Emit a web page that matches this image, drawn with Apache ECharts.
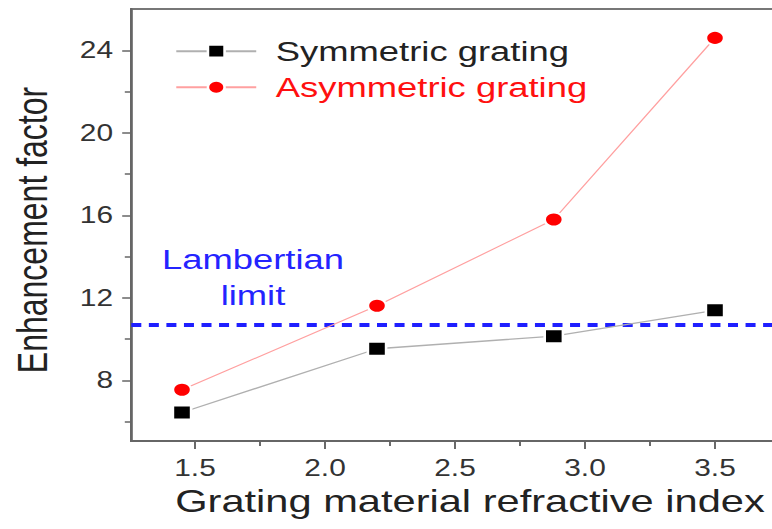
<!DOCTYPE html>
<html><head><meta charset="utf-8">
<script src="https://cdn.jsdelivr.net/npm/echarts@6/dist/echarts.min.js"></script>
<style>
html,body{margin:0;padding:0;width:772px;height:529px;overflow:hidden;background:#fff}
#wrap{width:772px;height:529px;overflow:hidden;position:relative;background:#fff}
#chart{width:594px;height:529px;transform:scaleX(1.3);transform-origin:0 0}
</style></head><body><div id="wrap"><div id="chart"></div></div>
<script>
// ---- data ----
const xValues = [1.45, 2.2, 2.88, 3.5];
const symmetric = [6.45, 9.54, 10.15, 11.4];
const asymmetric = [7.55, 11.62, 15.8, 24.6];
const lambertianLimit = 10.7;
const seriesNames = ['Symmetric grating', 'Asymmetric grating'];
const xTickLabels = [1.5, 2.0, 2.5, 3.0, 3.5];
const xMinorTicks = [1.75, 2.25, 2.75, 3.25];
const yTickLabels = [8, 12, 16, 20, 24];
const yMinorTicks = [6, 10, 14, 18, 22];
const xTitle = 'Grating material refractive index';
const yTitle = 'Enhancement factor';
const annotation = 'Lambertian\nlimit';

const FONT = "'Liberation Sans', Arial, sans-serif";
const X_MIN = 1.255, X_MAX = 3.75, Y_MIN = 5.07, Y_MAX = 26;
const axisColor = '#666';

const chart = echarts.init(document.getElementById('chart'), null, {renderer: 'svg'});

const option = {
  animation: false,
  backgroundColor: '#fff',
  grid: {
    left: 101, top: 9, width: 499, height: 432,
    show: true, borderColor: '#777', borderWidth: 2, backgroundColor: 'transparent',
    containLabel: false, outerBoundsMode: 'none'
  },
  legend: {
    orient: 'vertical', left: 129.6, top: 32.2, padding: 5,
    itemWidth: 61.5, itemHeight: 16, itemGap: 8,
    textStyle: {fontSize: 28, fontFamily: FONT, lineHeight: 28, padding: [0, 0, 0, 10]},
    data: [
      {name: seriesNames[0], textStyle: {color: '#222'}},
      {name: seriesNames[1], textStyle: {color: '#ff1010'}}
    ]
  },
  xAxis: [
    {
      type: 'value', min: X_MIN, max: X_MAX, position: 'bottom',
      name: xTitle, nameLocation: 'middle', nameGap: 32,
      nameTextStyle: {fontSize: 32, fontFamily: FONT, color: '#222', padding: [0, 0, 0, 22]},
      axisLine: {show: true, onZero: false, lineStyle: {color: axisColor, width: 2}},
      axisTick: {show: true, customValues: xTickLabels, length: 8, lineStyle: {color: axisColor, width: 1.5}},
      axisLabel: {customValues: xTickLabels, formatter: v => Number(v).toFixed(1), margin: 16,
        fontSize: 23, fontFamily: FONT, color: '#333'},
      splitLine: {show: false}
    },
    {
      type: 'value', min: X_MIN, max: X_MAX, position: 'bottom',
      axisLine: {show: false},
      axisTick: {show: true, customValues: xMinorTicks, length: 5, lineStyle: {color: axisColor, width: 1.5}},
      axisLabel: {show: false}, splitLine: {show: false}
    }
  ],
  yAxis: [
    {
      type: 'value', min: Y_MIN, max: Y_MAX, position: 'left',
      name: yTitle, nameLocation: 'middle', nameGap: 60, nameRotate: 90,
      nameTextStyle: {fontSize: 32, fontFamily: FONT, color: '#222', padding: [0, 10, 0, 0]},
      axisLine: {show: true, onZero: false, lineStyle: {color: axisColor, width: 2}},
      axisTick: {show: true, customValues: yTickLabels, length: 7, lineStyle: {color: axisColor, width: 1.5}},
      axisLabel: {customValues: yTickLabels, margin: 14, fontSize: 23, fontFamily: FONT, color: '#333'},
      splitLine: {show: false}
    },
    {
      type: 'value', min: Y_MIN, max: Y_MAX, position: 'left',
      axisLine: {show: false},
      axisTick: {show: true, customValues: yMinorTicks, length: 5, lineStyle: {color: axisColor, width: 1.5}},
      axisLabel: {show: false}, splitLine: {show: false}
    }
  ],
  series: [
    {
      name: seriesNames[0], type: 'line', xAxisIndex: 0, yAxisIndex: 0,
      data: xValues.map((x, i) => [x, symmetric[i]]),
      symbol: 'rect', symbolSize: 14,
      itemStyle: {color: '#000', borderColor: '#fff', borderWidth: 2},
      lineStyle: {color: '#b0b0b0', width: 1.3},
      z: 4,
      markLine: {
        silent: true, symbol: ['none', 'none'], label: {show: false},
        lineStyle: {color: '#1f1fff', width: 4, type: [7.7, 5.8]},
        data: [{yAxis: lambertianLimit}], z: 2
      }
    },
    {
      name: seriesNames[1], type: 'line', xAxisIndex: 0, yAxisIndex: 0,
      data: xValues.map((x, i) => [x, asymmetric[i]]),
      symbol: 'circle', symbolSize: 14,
      itemStyle: {color: '#ff0000', borderColor: '#fff', borderWidth: 2},
      lineStyle: {color: '#ffa0a0', width: 1.1},
      z: 5
    }
  ],
  graphic: [
    {
      type: 'text', x: 194.6, y: 241.3, z: 10,
      style: {text: annotation, fontSize: 28, lineHeight: 36, fontFamily: FONT,
        fill: '#2424ff', align: 'center', verticalAlign: 'top'}
    }
  ]
};
chart.setOption(option);
</script></body></html>
